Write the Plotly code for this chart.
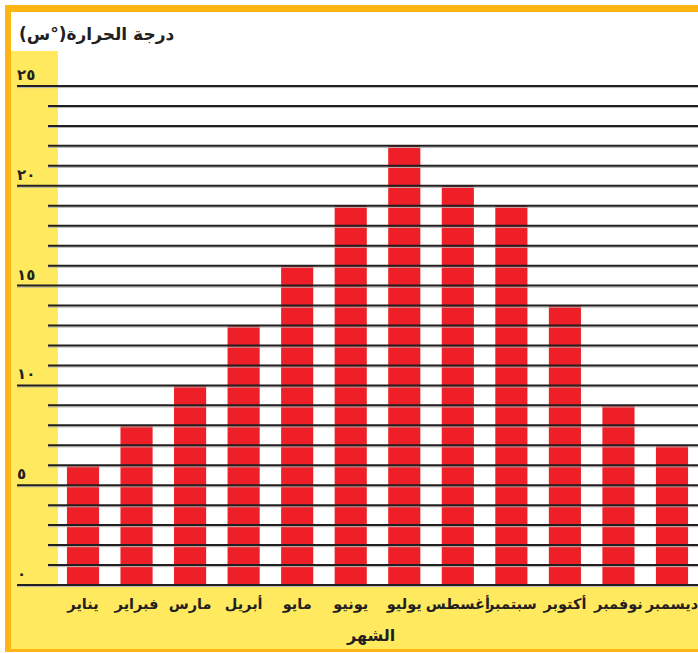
import plotly.graph_objects as go

# Monthly average temperature (°C)
months = ["يناير", "فبراير", "مارس", "أبريل", "مايو", "يونيو",
          "يوليو", "أغسطس", "سبتمبر", "أكتوبر", "نوفمبر", "ديسمبر"]
temps = [6, 8, 10, 13, 16, 19, 22, 20, 19, 14, 9, 7]

# Horizontal rules every degree, labelled every five
rule_vals = list(range(0, 26))
label_vals = [0, 5, 10, 15, 20, 25]
label_text = ["٠", "٥", "١٠", "١٥", "٢٠", "٢٥"]

y_title = "درجة الحرارة(°س)\u200F"
x_title = "الشهر"

W, H = 698, 653
L, R, T, B = 17, 0, 80, 65
PW, PH = W - L - R, H - T - B
Y_RANGE = [-0.15, 25.3]
PPU = PH / (Y_RANGE[1] - Y_RANGE[0])

ORANGE = "#FDB515"
YELLOW = "#FFE95E"
RED = "#EE1F26"
INK = "#231F20"
FONT = "DejaVu Sans"


def fx(px):
    return (px - L) / PW


def fy(py):
    return (H - B - py) / PH


fig = go.Figure(go.Bar(
    x=list(range(len(months))),
    y=temps,
    marker=dict(color=RED, line=dict(width=0)),
    hoverinfo="skip",
))

shapes = []
# frame and yellow panels
shapes.append(dict(type="rect", xref="paper", yref="paper", layer="below",
                   x0=fx(11), x1=fx(58), y0=fy(650), y1=fy(51),
                   fillcolor=YELLOW, line=dict(width=0)))
shapes.append(dict(type="rect", xref="paper", yref="paper", layer="below",
                   x0=fx(11), x1=fx(W), y0=fy(650), y1=fy(587),
                   fillcolor=YELLOW, line=dict(width=0)))
shapes.append(dict(type="rect", xref="paper", yref="paper", layer="above",
                   x0=fx(5), x1=fx(W), y0=fy(12), y1=fy(5),
                   fillcolor=ORANGE, line=dict(width=0)))
shapes.append(dict(type="rect", xref="paper", yref="paper", layer="above",
                   x0=fx(5), x1=fx(11), y0=fy(652), y1=fy(5),
                   fillcolor=ORANGE, line=dict(width=0)))
shapes.append(dict(type="rect", xref="paper", yref="paper", layer="above",
                   x0=fx(5), x1=fx(W), y0=fy(652), y1=fy(649),
                   fillcolor=ORANGE, line=dict(width=0)))

# rules: major ones reach further left
for v in rule_vals:
    x0 = 0 if v % 5 == 0 else fx(48)
    shapes.append(dict(type="line", xref="paper", yref="y", layer="above",
                       x0=x0, x1=1, y0=v - 1.6 / PPU, y1=v - 1.6 / PPU,
                       line=dict(color="#B4B4B4", width=1)))
    shapes.append(dict(type="line", xref="paper", yref="y", layer="above",
                       x0=x0, x1=1, y0=v, y1=v,
                       line=dict(color=INK, width=2)))

annotations = []
for v, t in zip(label_vals, label_text):
    annotations.append(dict(xref="paper", yref="y", x=0, y=v,
                            xanchor="left", yanchor="bottom", yshift=0, xshift=-2,
                            text=t, showarrow=False,
                            font=dict(family=FONT, size=15, color=INK, weight="bold")))
annotations.append(dict(xref="paper", yref="paper", x=fx(17), y=fy(35),
                        xanchor="left", yanchor="middle", text=y_title,
                        showarrow=False,
                        font=dict(family=FONT, size=17, color=INK, weight="bold")))
annotations.append(dict(xref="paper", yref="paper", x=fx(370), y=fy(635),
                        xanchor="center", yanchor="middle", text=x_title,
                        showarrow=False,
                        font=dict(family=FONT, size=16, color=INK, weight="bold")))

fig.update_layout(
    width=W, height=H,
    margin=dict(l=L, r=R, t=T, b=B),
    paper_bgcolor="white", plot_bgcolor="white",
    bargap=0.4, showlegend=False,
    shapes=shapes, annotations=annotations,
    xaxis=dict(range=[-1.2326, 11.4856], tickvals=list(range(len(months))),
               ticktext=months, showgrid=False, zeroline=False, showline=False,
               ticks="", tickangle=0, ticklabelstandoff=5,
               ticklabeloverflow="allow",
               tickfont=dict(family=FONT, size=14.5, color=INK, weight="bold")),
    yaxis=dict(range=Y_RANGE, showgrid=False, zeroline=False, showline=False,
               showticklabels=False, ticks=""),
)

fig.write_html("out.html")
